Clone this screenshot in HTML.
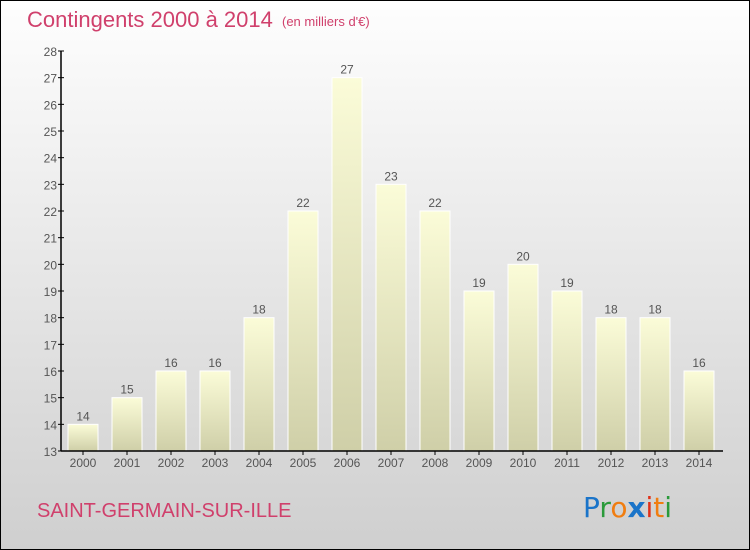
<!DOCTYPE html>
<html><head><meta charset="utf-8"><style>
body{margin:0}
#c{position:relative;width:750px;height:550px;box-sizing:border-box;border:1px solid #000;background:linear-gradient(#fefefe,#cfcfcf);font-family:"Liberation Sans",sans-serif;overflow:hidden}
</style></head><body>
<div id="c">
<svg width="748" height="548" style="position:absolute;left:0;top:0" id="svg">
<defs><linearGradient id="bg" x1="0" y1="0" x2="0" y2="1"><stop offset="0" stop-color="#fbfcd8"/><stop offset="1" stop-color="#cfcfa8"/></linearGradient></defs>
<text x="26" y="26" font-size="22" fill="#d0406c">Contingents 2000 à 2014</text>
<text x="281" y="25" font-size="13" fill="#d0406c">(en milliers d'€)</text>
<text x="36" y="516" font-size="20" fill="#d0406c">SAINT-GERMAIN-SUR-ILLE</text>
<g font-size="28" font-family="'DejaVu Sans',sans-serif">
<text x="582" y="516"><tspan fill="#1a74c9">P</tspan><tspan fill="#2a9a3a">r</tspan><tspan fill="#f07d10">o</tspan><tspan fill="#1a74c9" font-weight="bold">x</tspan><tspan fill="#e03018">i</tspan><tspan fill="#f07d10">t</tspan><tspan fill="#2a9a3a">i</tspan></text></g>
<g id="plot"></g>
</svg></div>
<script>
const categories=["2000","2001","2002","2003","2004","2005","2006","2007","2008","2009","2010","2011","2012","2013","2014"];
const values=[14,15,16,16,18,22,27,23,22,19,20,19,18,18,16];
const yTicks=[13,14,15,16,17,18,19,20,21,22,23,24,25,26,27,28];
const NS="http://www.w3.org/2000/svg";
const g=document.getElementById('plot');
const x0=60,band=44,yMin=13,yMax=28,yTop=50,yBot=450;
const y=v=>yBot-(v-yMin)/(yMax-yMin)*(yBot-yTop);
function mk(t,a){const e=document.createElementNS(NS,t);for(const k in a)e.setAttribute(k,a[k]);g.appendChild(e);return e;}
categories.forEach((c,i)=>{
 const bx=x0+i*band+7;
 const r=mk('rect',{x:bx,y:y(values[i]),width:30,height:yBot-y(values[i]),fill:'url(#bg)',stroke:'#fff','stroke-width':1});
 
 
 const t=mk('text',{x:bx+15,y:y(values[i])-4,'font-size':12,fill:'#555','text-anchor':'middle'});t.textContent=values[i];
 
 
 const xt=mk('text',{x:x0+i*band+22,y:466,'font-size':12,fill:'#555','text-anchor':'middle'});xt.textContent=c;
 
 
 mk('line',{x1:x0+i*band+22,x2:x0+i*band+22,y1:yBot,y2:yBot+4,stroke:'#000'});
});
yTicks.forEach(v=>{
 mk('line',{x1:x0-3,x2:x0+3,y1:y(v),y2:y(v),stroke:'#000'});
 const t=mk('text',{x:x0-4,y:y(v)+5,'font-size':12,fill:'#555','text-anchor':'end'});t.textContent=v;
 
 
});
const ya=mk('line',{x1:x0,x2:x0,y1:yTop,y2:yBot,stroke:'#000','stroke-width':1.5});


const xa=mk('line',{x1:x0,x2:722,y1:yBot,y2:yBot,stroke:'#000','stroke-width':1.5});


</script>
</body></html>
